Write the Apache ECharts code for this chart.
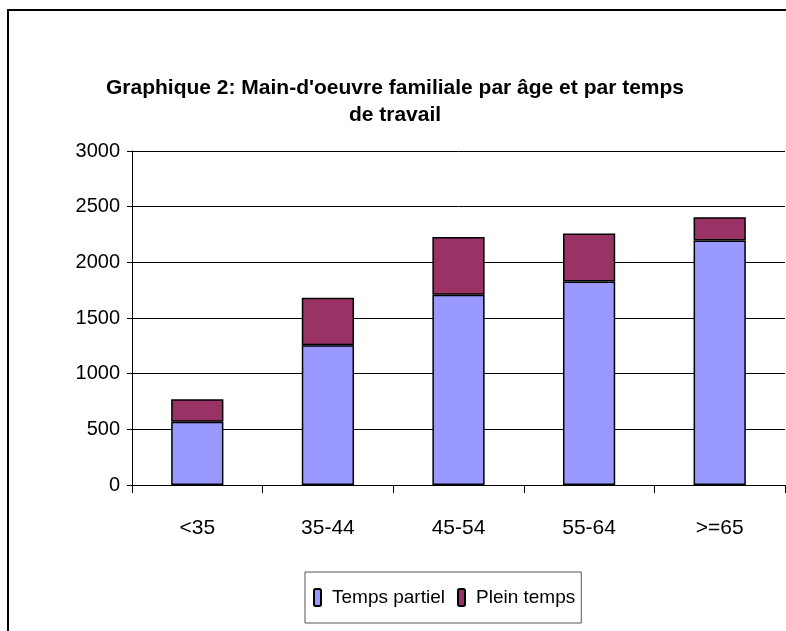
<!DOCTYPE html>
<html>
<head>
<meta charset="utf-8">
<script src="https://cdn.jsdelivr.net/npm/echarts@6/dist/echarts.min.js"></script>
<style>
  html, body { margin: 0; padding: 0; background: #fff; }
  #main { width: 786px; height: 631px; }
</style>
</head>
<body>
<div id="main"></div>
<script>
var titleText = "Graphique 2: Main-d'oeuvre familiale par âge et par temps\nde travail";
var categories = ["<35", "35-44", "45-54", "55-64", ">=65"];
var tempsPartiel = [569, 1256, 1709, 1828, 2197];
var pleinTemps = [202, 426, 518, 432, 207];
var yTicks = [0, 500, 1000, 1500, 2000, 2500, 3000];

var font = "'Liberation Sans', Arial, sans-serif";

var myChart = echarts.init(document.getElementById("main"));
myChart.setOption({
  animation: false,
  backgroundColor: "#fff",
  title: {
    text: titleText,
    left: 390,
    textAlign: "center",
    top: 70,
    textStyle: {
      fontFamily: font,
      fontWeight: "bold",
      fontSize: 21,
      lineHeight: 27,
      color: "#000"
    }
  },
  graphic: [{
    type: "rect",
    shape: { x: 8, y: 10, width: 800, height: 640 },
    style: { fill: null, stroke: "#000", lineWidth: 2 },
    silent: true
  }],
  legend: {
    left: 305,
    top: 572,
    padding: [16, 6, 16, 8],
    itemWidth: 7,
    itemHeight: 17,
    itemGap: 12,
    borderColor: "#555",
    borderWidth: 1,
    textStyle: { fontFamily: font, fontSize: 19, color: "#000", padding: [0, 0, 0, 6] },
    data: ["Temps partiel", "Plein temps"]
  },
  grid: {
    left: 132,
    right: 1,
    top: 151,
    bottom: 146,
    containLabel: false
  },
  xAxis: {
    type: "category",
    data: categories,
    axisLine: { lineStyle: { color: "#000", width: 1 } },
    axisTick: { show: true, length: 8, lineStyle: { color: "#000" } },
    axisLabel: {
      margin: 33,
      fontFamily: font,
      fontSize: 21,
      color: "#000"
    }
  },
  yAxis: {
    type: "value",
    min: yTicks[0],
    max: yTicks[yTicks.length - 1],
    interval: 500,
    axisLine: { show: true, lineStyle: { color: "#000", width: 1 } },
    axisTick: { show: true, length: 5, lineStyle: { color: "#000" } },
    splitLine: { show: true, lineStyle: { color: "#000", width: 1 } },
    axisLabel: {
      margin: 12,
      fontFamily: font,
      fontSize: 20,
      color: "#000",
      formatter: function (v) { return String(v); }
    }
  },
  series: [
    {
      name: "Temps partiel",
      type: "bar",
      stack: "total",
      barWidth: "40%",
      data: tempsPartiel,
      itemStyle: { color: "#9999FF", borderColor: "#000", borderWidth: 1.5 }
    },
    {
      name: "Plein temps",
      type: "bar",
      stack: "total",
      barWidth: "40%",
      data: pleinTemps,
      itemStyle: { color: "#993366", borderColor: "#000", borderWidth: 1.5 }
    }
  ]
});
</script>
</body>
</html>
